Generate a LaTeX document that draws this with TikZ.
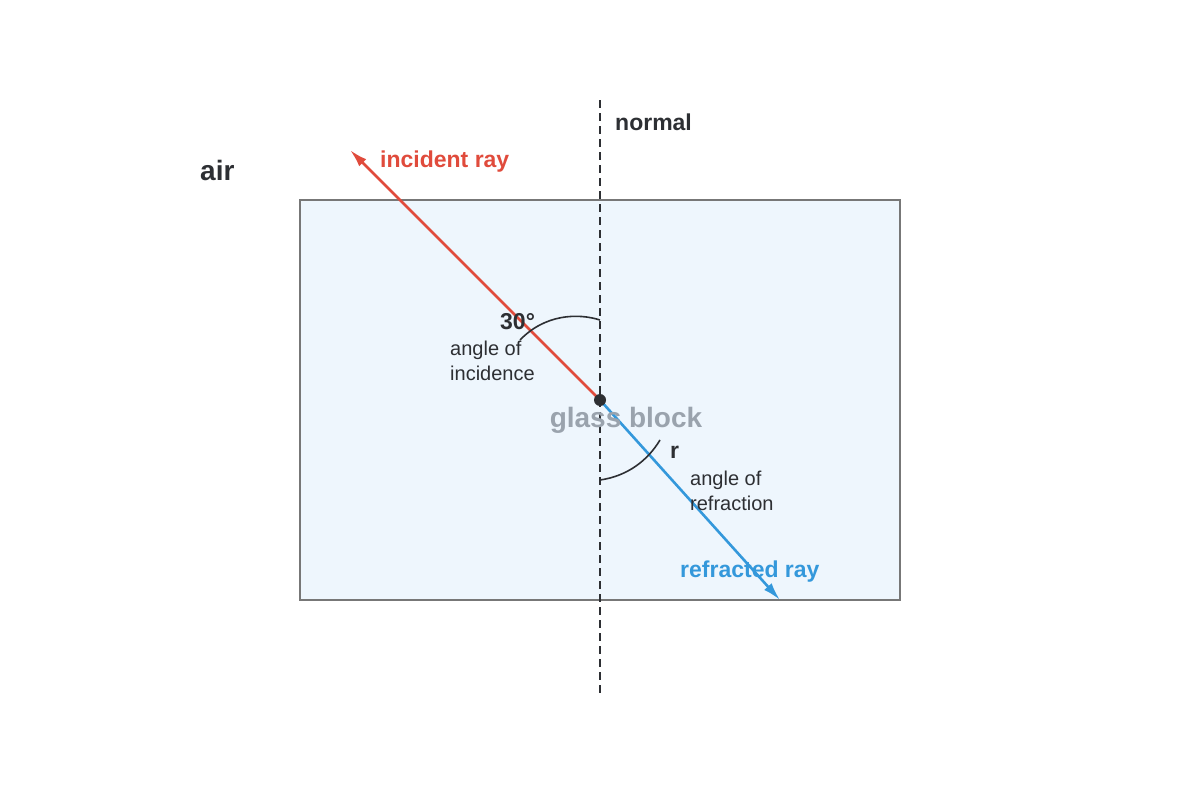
\documentclass[tikz,border=0pt]{standalone}
\usepackage{fontspec}
\setmainfont{Liberation Sans}
\usetikzlibrary{arrows.meta}
\definecolor{boxfill}{HTML}{EEF6FD}
\definecolor{boxline}{HTML}{777777}
\definecolor{redray}{HTML}{E04B3C}
\definecolor{blueray}{HTML}{3498DB}
\definecolor{dark}{HTML}{2D2F33}
\definecolor{glass}{HTML}{9AA3AD}
\tikzset{
  lbl/.style={anchor=west,inner sep=0pt,text=dark,font=\fontsize{20}{25}\selectfont},
  blbl/.style={anchor=west,inner sep=0pt,font=\bfseries\fontsize{23}{28}\selectfont},
  ray/.style={line width=2.6pt,-{Latex[length=18pt,width=10pt]}}
}
\begin{document}
\begin{tikzpicture}[x=1pt,y=-1pt]
\useasboundingbox (0,0) rectangle (1200,800);
\node[draw=boxline,line width=1.5pt,fill=boxfill,minimum width=600pt,minimum height=400pt,inner sep=0pt] (box) at (600,400) {};
\coordinate (ntop) at (600,100);
\coordinate (nbot) at (600,695);
\draw[dark,line width=1.8pt,dash pattern=on 8pt off 5pt] (ntop) -- (nbot);
\coordinate (P) at (600,400);
\coordinate (inc) at (350,150);
\coordinate (ref) at (780,600);
\draw[ray,redray] (P) -- (inc);
\draw[ray,blueray] (P) -- (ref);
\fill[dark] (P) circle (6pt);
\coordinate (a1) at (520,340); \coordinate (a2) at (600,320);
\draw[dark,line width=1.6pt] (a1) .. controls (545,314) and (578,313) .. (a2);
\coordinate (b1) at (600,480); \coordinate (b2) at (660,440);
\draw[dark,line width=1.6pt] (b1) .. controls (628,476) and (648,460) .. (b2);
\node[blbl,text=dark] (normal) at (615,122) {normal};
\node[blbl,text=dark,font=\bfseries\fontsize{28}{33}\selectfont] (air) at (200,170) {air};
\node[blbl,text=redray] (incl) at (380,162) {incident ray};
\node[blbl,text=dark] (thirty) at (500,322) {30°};
\node[lbl,align=left,anchor=north west] (ai) at (450,341) {angle of\\incidence};
\node[inner sep=0pt,text=glass,font=\bfseries\fontsize{28}{33}\selectfont] (gb) at (626,420) {glass block};
\node[blbl,text=dark] (r) at (670,452) {r};
\node[lbl,align=left,anchor=north west] (ar) at (690,471) {angle of\\refraction};
\node[blbl,text=blueray] (refl) at (680,572) {refracted ray};
\end{tikzpicture}
\end{document}
